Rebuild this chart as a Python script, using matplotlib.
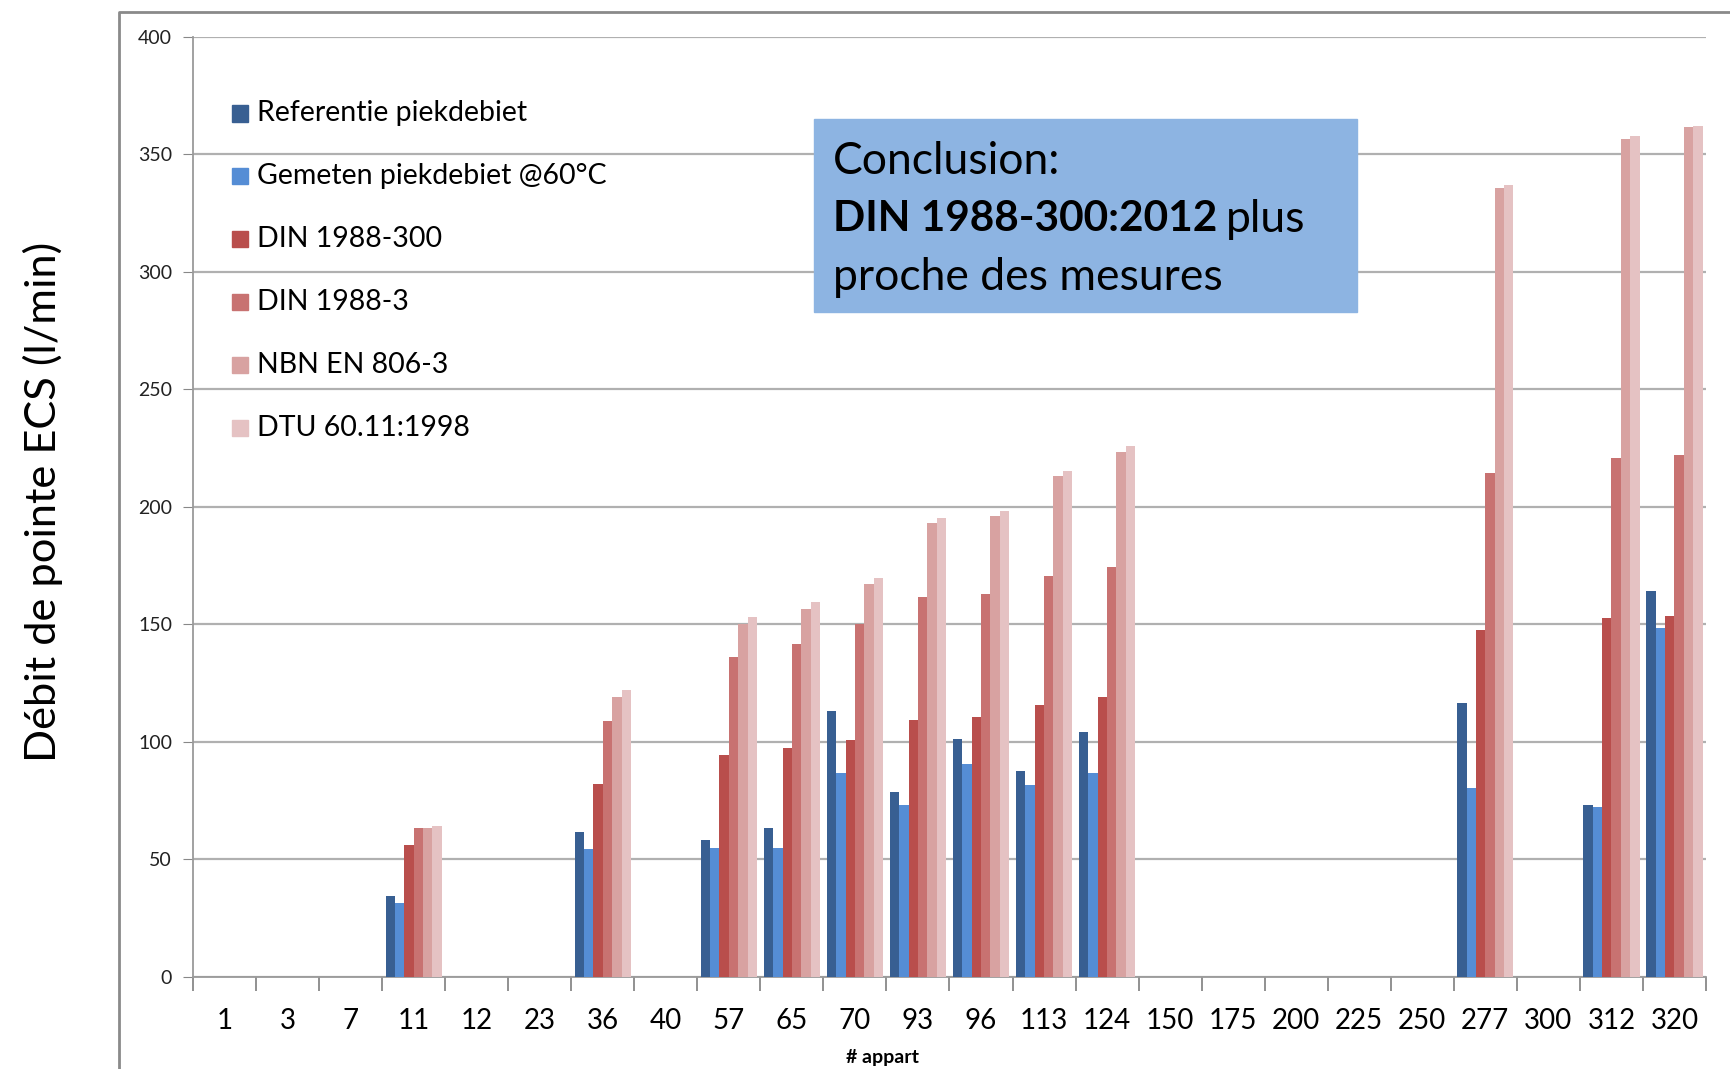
import numpy as np
import matplotlib.pyplot as plt
from matplotlib.patches import Rectangle
from matplotlib.lines import Line2D

plt.rcParams['font.family'] = ['Lato', 'DejaVu Sans']

# number of apartments per building
apparts = ['1', '3', '7', '11', '12', '23', '36', '40', '57', '65', '70', '93',
           '96', '113', '124', '150', '175', '200', '225', '250', '277', '300',
           '312', '320']

nan = np.nan
ref_piek = [nan, nan, nan, 34.4, nan, nan, 61.5, nan, 58.3, 63.3, 113.1, 78.7,
            101.4, 87.7, 104.1, nan, nan, nan, nan, nan, 116.4, nan, 73.0, 164.0]
gemeten_60 = [nan, nan, nan, 31.3, nan, nan, 54.3, nan, 54.8, 54.8, 86.8, 73.1,
              90.4, 81.8, 86.8, nan, nan, nan, nan, nan, 80.5, nan, 72.5, 148.6]
din_300 = [nan, nan, nan, 56.2, nan, nan, 81.9, nan, 94.5, 97.3, 100.8, 109.4,
           110.5, 115.8, 119.0, nan, nan, nan, nan, nan, 147.6, nan, 152.8, 153.5]
din_3 = [nan, nan, nan, 63.4, nan, nan, 109.0, nan, 136.3, 141.8, 150.2, 161.7,
         163.1, 170.4, 174.5, nan, nan, nan, nan, nan, 214.3, nan, 220.6, 222.1]
nbn_806 = [nan, nan, nan, 63.4, nan, nan, 119.0, nan, 150.2, 156.7, 167.0, 193.0,
           196.0, 212.9, 223.4, nan, nan, nan, nan, nan, 335.5, nan, 356.5, 361.6]
dtu_60 = [nan, nan, nan, 64.2, nan, nan, 122.0, nan, 153.0, 159.3, 169.9, 195.1,
          198.3, 215.0, 225.7, nan, nan, nan, nan, nan, 337.0, nan, 357.5, 362.1]

series = [
    ('Referentie piekdebiet', ref_piek, '#385F92'),
    ('Gemeten piekdebiet @60°C', gemeten_60, '#558DD5'),
    ('DIN 1988-300', din_300, '#B94E4C'),
    ('DIN 1988-3', din_3, '#C87271'),
    ('NBN EN 806-3', nbn_806, '#D8A2A1'),
    ('DTU 60.11:1998', dtu_60, '#E5C2C3'),
]

W, H = 1731, 1069
fig = plt.figure(figsize=(W / 100, H / 100), dpi=100)
ax = fig.add_axes([193 / W, 1 - 977 / H, (1706 - 193) / W, (977 - 36.5) / H])

x = np.arange(len(apparts))
n = len(series)
bw = 1 / (n + 0.73)
for i, (name, vals, col) in enumerate(series):
    ax.bar(x + (i - (n - 1) / 2) * bw, vals, width=bw, color=col,
           edgecolor='none', label=name, zorder=3)

ax.set_xlim(-0.5, len(apparts) - 0.5)
ax.set_ylim(0, 400)
ax.set_yticks(range(0, 401, 50))
ax.tick_params(axis='y', labelsize=14, length=7, color='#888888', pad=8,
               labelcolor='#222222')
ax.yaxis.grid(True, color='#B0B0B0', linewidth=1.6, zorder=0)

# category labels in the middle, tick marks on the boundaries
ax.set_xticks(x)
ax.set_xticklabels(apparts, fontsize=20)
ax.tick_params(axis='x', length=0, pad=22)
ax.set_xticks(np.arange(-0.5, len(apparts)), minor=True)
ax.tick_params(axis='x', which='minor', length=10, color='#888888', width=1.3)

for s in ['top', 'right']:
    ax.spines[s].set_visible(False)
for s in ['left', 'bottom']:
    ax.spines[s].set_color('#9A9A9A')
    ax.spines[s].set_linewidth(1.3)

ax.set_ylabel('Débit de pointe ECS (l/min)', fontsize=31.2)
ax.yaxis.set_label_coords((63 - 193) / (1706 - 193), 0.505)
fig.text(883 / W, 1 - 1057 / H, '# appart', fontsize=14, fontweight='bold',
         ha='center', va='center')

# legend down the left side
for i, (name, vals, col) in enumerate(series):
    yy = 1 - (113.5 + i * 62.9) / H
    fig.patches.append(Rectangle((232 / W, yy - 8 / H), 16 / W, 16 / H,
                                 transform=fig.transFigure, color=col))
    fig.text(257 / W, yy, name, fontsize=20.5, va='center', ha='left')

# conclusion box
fig.patches.append(Rectangle((814 / W, 1 - 312 / H), 543 / W, 193 / H,
                             transform=fig.transFigure, color='#8DB4E2',
                             zorder=5))
fig.text(833 / W, 1 - 161 / H, 'Conclusion:', fontsize=32, va='center',
         zorder=6)
t = fig.text(833 / W, 1 - 219 / H, 'DIN 1988-300:2012', fontsize=30.5,
             fontweight='bold', va='center', zorder=6)
fig.canvas.draw()
bb = t.get_window_extent()
fig.text(bb.x1 / W + 9 / W, 1 - 219 / H, 'plus', fontsize=32, va='center',
         zorder=6)
fig.text(833 / W, 1 - 277 / H, 'proche des mesures', fontsize=32,
         va='center', zorder=6)

# outer frame
fig.lines.append(Line2D([119 / W, 119 / W, 1.0], [0, 1 - 12 / H, 1 - 12 / H],
                        transform=fig.transFigure, color='#8A8A8A',
                        linewidth=2))

fig.savefig('out.png', dpi=100)
